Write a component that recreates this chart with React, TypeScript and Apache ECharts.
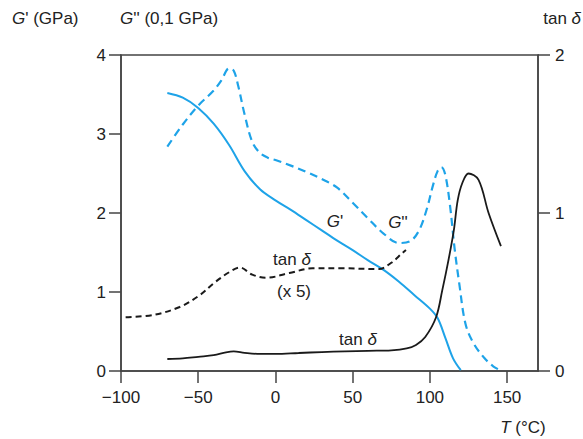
import React, { useEffect, useRef } from 'react';
import * as echarts from 'echarts';

// Temperature ticks (°C)
const xTicks = [-100, -50, 0, 50, 100, 150];

// G' (GPa), left axis
const gStorage: [number, number][] = [
  [-70, 3.52], [-60, 3.46], [-50, 3.33], [-40, 3.13], [-30, 2.86], [-20, 2.53],
  [-10, 2.3], [0, 2.16], [10, 2.04], [20, 1.91], [30, 1.78], [40, 1.65],
  [50, 1.53], [60, 1.4], [70, 1.28], [80, 1.13], [90, 0.96], [100, 0.79],
  [105, 0.67], [110, 0.42], [115, 0.16], [120, 0.01],
];

// G'' (0,1 GPa), left axis
const gLoss: [number, number][] = [
  [-70, 2.84], [-60, 3.12], [-50, 3.36], [-40, 3.55], [-35, 3.68], [-30, 3.83],
  [-27, 3.8], [-24, 3.6], [-20, 3.25], [-15, 2.9], [-10, 2.76], [-5, 2.7],
  [0, 2.67], [10, 2.6], [20, 2.52], [30, 2.43], [40, 2.32], [50, 2.13],
  [60, 1.93], [70, 1.74], [80, 1.62], [87, 1.64], [93, 1.78], [98, 2.05],
  [102, 2.35], [105, 2.53], [107.5, 2.58], [110, 2.48], [113, 2.1], [116, 1.55],
  [119, 1.11], [123, 0.6], [128, 0.36], [135, 0.17], [141, 0.06], [146.5, 0],
];

// tan δ, right axis
const tanDelta: [number, number][] = [
  [-70, 0.076], [-60, 0.08], [-50, 0.09], [-40, 0.1], [-32, 0.118], [-27, 0.124],
  [-20, 0.115], [-10, 0.108], [0, 0.108], [15, 0.114], [30, 0.12], [45, 0.124],
  [60, 0.128], [75, 0.131], [85, 0.143], [91, 0.165], [97, 0.215],
  [104, 0.34], [108, 0.51], [112, 0.7], [115.5, 0.89], [118, 1.08],
  [121, 1.19], [125, 1.25], [131.5, 1.21], [138, 1.0], [146, 0.79],
];

// tan δ (x 5), right axis
const tanDelta5: [number, number][] = [
  [-97, 0.34], [-79, 0.355], [-62, 0.405], [-49, 0.48], [-40, 0.555],
  [-30, 0.625], [-23, 0.655], [-15, 0.61], [-6, 0.59], [9, 0.62], [24, 0.65],
  [43, 0.65], [67, 0.645], [75, 0.685], [82, 0.745], [84.5, 0.766],
];

const FONT = '"Liberation Sans", Arial, sans-serif';
const TXT = '#222';
const AX = '#444';
const BLUE = '#1ea3e8';

const rich = {
  i: { fontStyle: 'italic' as const, fontSize: 17, fontFamily: FONT, fill: TXT },
};

function label(text: string, x: number, y: number, align = 'center') {
  return {
    type: 'text',
    x,
    y,
    silent: true,
    style: {
      text,
      fontSize: 17,
      fontFamily: FONT,
      fill: TXT,
      align,
      verticalAlign: 'middle',
      rich,
    },
  };
}

export default function App() {
  const ref = useRef<HTMLDivElement>(null);
  useEffect(() => {
    const chart = echarts.init(ref.current!, null, { renderer: 'svg' });
    const axisLine = { show: true, onZero: false, lineStyle: { color: AX, width: 1.5 } };
    const axisTick = { show: true, inside: false, length: 12, lineStyle: { color: AX, width: 1.5 } };
    const lineBase = { type: 'line', symbol: 'none', smooth: 0.35 };
    chart.setOption({
      animation: false,
      backgroundColor: '#fff',
      grid: {
        left: 121, right: 45, top: 55, bottom: 68,
        show: true, borderColor: AX, borderWidth: 1.5,
      },
      xAxis: {
        type: 'value', min: -100, max: 170, interval: 50,
        axisLine,
        splitLine: { show: false },
        axisTick: { ...axisTick, customValues: xTicks },
        axisLabel: {
          customValues: xTicks,
          fontSize: 17, fontFamily: FONT, color: TXT, margin: 18,
          formatter: (v: number) => (v < 0 ? '\u2212' + Math.abs(v) : String(v)),
        },
      },
      yAxis: [
        {
          type: 'value', min: 0, max: 4, interval: 1, position: 'left',
          axisLine, axisTick, splitLine: { show: false },
          axisLabel: { fontSize: 17, fontFamily: FONT, color: TXT, margin: 15 },
        },
        {
          type: 'value', min: 0, max: 2, interval: 1, position: 'right',
          axisLine, axisTick, splitLine: { show: false },
          axisLabel: { fontSize: 17, fontFamily: FONT, color: TXT, margin: 17 },
        },
      ],
      series: [
        {
          ...lineBase, name: "G'", yAxisIndex: 0, data: gStorage,
          lineStyle: { color: BLUE, width: 2 },
        },
        {
          ...lineBase, name: "G''", yAxisIndex: 0, data: gLoss,
          lineStyle: { color: BLUE, width: 2.2, type: [8, 5] },
        },
        {
          ...lineBase, name: 'tan δ', yAxisIndex: 1, data: tanDelta,
          lineStyle: { color: '#1a1a1a', width: 1.8 },
        },
        {
          ...lineBase, name: 'tan δ (x 5)', yAxisIndex: 1, data: tanDelta5,
          lineStyle: { color: '#1a1a1a', width: 2, type: [6, 4] },
        },
      ],
      graphic: [
        label("{i|G}' (GPa)", 12, 18, 'left'),
        label("{i|G}'' (0,1 GPa)", 120, 18, 'left'),
        label('tan {i|δ}', 581, 18, 'right'),
        label("{i|G}'", 335, 221),
        label("{i|G}''", 398, 222),
        label('tan {i|δ}', 292, 259),
        label('(x 5)', 294, 291),
        label('tan {i|δ}', 358, 339),
        label('{i|T} (°C)', 523, 427),
      ],
    });
    return () => chart.dispose();
  }, []);
  return (
    <div
      ref={ref}
      style={{ position: 'fixed', left: 0, top: 0, width: 583, height: 439 }}
    />
  );
}
